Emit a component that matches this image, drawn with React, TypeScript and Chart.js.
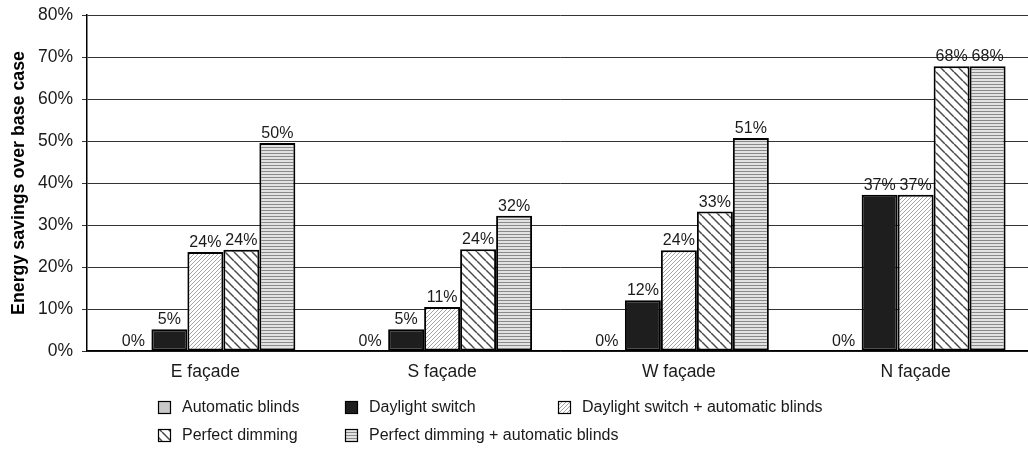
import React, { useEffect, useRef } from "react";
import { Chart, registerables } from "chart.js";

Chart.register(...registerables);

const categories = ["E façade", "S façade", "W façade", "N façade"];
const automaticBlinds = [0, 0, 0, 0];
const daylightSwitch = [5.2, 5.2, 12.1, 37.2];
const daylightSwitchBlinds = [23.6, 10.5, 24.0, 37.2];
const perfectDimming = [24.1, 24.2, 33.2, 67.8];
const perfectDimmingBlinds = [49.5, 32.2, 50.7, 67.8];
const yTicks = [0, 10, 20, 30, 40, 50, 60, 70, 80];
const seriesNames = [
  "Automatic blinds",
  "Daylight switch",
  "Daylight switch + automatic blinds",
  "Perfect dimming",
  "Perfect dimming + automatic blinds",
];

const FONT = "Arial, 'Liberation Sans', sans-serif";

function makePattern(kind: string): CanvasPattern | string {
  const c = document.createElement("canvas");
  const ctx = c.getContext("2d")!;
  if (kind === "fwd") {
    c.width = 4; c.height = 4;
    ctx.fillStyle = "#ffffff"; ctx.fillRect(0, 0, 4, 4);
    ctx.strokeStyle = "#a6a6a6"; ctx.lineWidth = 1;
    for (const k of [-4, 0, 4]) {
      ctx.beginPath(); ctx.moveTo(k, 4); ctx.lineTo(k + 4, 0); ctx.stroke();
    }
  } else if (kind === "back") {
    c.width = 9; c.height = 9;
    ctx.fillStyle = "#ffffff"; ctx.fillRect(0, 0, 9, 9);
    ctx.strokeStyle = "#4a4a4a"; ctx.lineWidth = 1.5;
    for (const k of [-9, 0, 9]) {
      ctx.beginPath(); ctx.moveTo(k, 0); ctx.lineTo(k + 9, 9); ctx.stroke();
    }
  } else {
    c.width = 2; c.height = 3;
    ctx.fillStyle = "#e2e2e2"; ctx.fillRect(0, 0, 2, 3);
    ctx.fillStyle = "#8a8a8a"; ctx.fillRect(0, 0, 2, 1);
  }
  return ctx.createPattern(c, "repeat")!;
}

export default function App() {
  const ref = useRef<HTMLCanvasElement>(null);

  useEffect(() => {
    if (!ref.current) return;
    const fills = [
      "#c8c8c8",
      "#1e1e1e",
      makePattern("fwd"),
      makePattern("back"),
      makePattern("horiz"),
    ];
    const seriesData = [
      automaticBlinds,
      daylightSwitch,
      daylightSwitchBlinds,
      perfectDimming,
      perfectDimmingBlinds,
    ];

    const labelPlugin = {
      id: "valueLabels",
      afterDatasetsDraw(chart: any) {
        const ctx = chart.ctx;
        ctx.save();
        ctx.font = `16px ${FONT}`;
        ctx.fillStyle = "#1a1a1a";
        ctx.textAlign = "center";
        ctx.textBaseline = "alphabetic";
        chart.data.datasets.forEach((ds: any, i: number) => {
          const meta = chart.getDatasetMeta(i);
          meta.data.forEach((el: any, j: number) => {
            const v = ds.data[j];
            ctx.fillText(Math.round(v) + "%", el.x, el.y - 5);
          });
        });
        ctx.restore();
      },
    };

    const legendPlugin = {
      id: "customLegend",
      afterDraw(chart: any) {
        const ctx = chart.ctx;
        const pos = [
          [158, 401],
          [345, 401],
          [558, 401],
          [158, 429],
          [345, 429],
        ];
        ctx.save();
        ctx.font = `16px ${FONT}`;
        ctx.textBaseline = "middle";
        ctx.textAlign = "left";
        seriesNames.forEach((name, i) => {
          const [x, y] = pos[i];
          ctx.fillStyle = fills[i] as any;
          ctx.fillRect(x, y, 13, 13);
          ctx.strokeStyle = "#000";
          ctx.lineWidth = 1.2;
          ctx.strokeRect(x + 0.5, y + 0.5, 12, 12);
          ctx.fillStyle = "#1a1a1a";
          ctx.fillText(name, x + 24, y + 7);
        });
        ctx.restore();
      },
    };

    const chart = new Chart(ref.current, {
      type: "bar",
      data: {
        labels: categories,
        datasets: seriesData.map((d, i) => ({
          label: seriesNames[i],
          data: d,
          backgroundColor: fills[i] as any,
          borderColor: "#000",
          borderWidth: 2,
          borderSkipped: false,
          categoryPercentage: 0.76,
          barPercentage: 1.0,
        })),
      },
      options: {
        animation: false,
        responsive: true,
        maintainAspectRatio: false,
        layout: { padding: { top: 15, right: 6, left: 0, bottom: 0 } },
        plugins: {
          legend: { display: false },
          tooltip: { enabled: false },
        },
        scales: {
          x: {
            grid: { display: false, drawTicks: false },
            border: { display: true, color: "#000", width: 1.5 },
            ticks: {
              color: "#1a1a1a",
              font: { family: FONT, size: 17.5 },
              padding: 11,
              maxRotation: 0,
            },
            afterFit(scale: any) {
              scale.height = 111;
            },
          },
          y: {
            min: 0,
            max: 80,
            afterBuildTicks(scale: any) {
              scale.ticks = yTicks.map((v) => ({ value: v }));
            },
            grid: { color: "#333", lineWidth: 1, tickLength: 5, drawTicks: true },
            border: { display: true, color: "#000", width: 1.5 },
            ticks: {
              color: "#1a1a1a",
              font: { family: FONT, size: 17.5 },
              padding: 9,
              callback: (v: any) => v + "%",
            },
            title: {
              display: true,
              text: "Energy savings over base case",
              color: "#000",
              font: { family: FONT, size: 17.8, weight: "bold" },
              padding: { top: 8, bottom: 0 },
            },
            afterFit(scale: any) {
              scale.width = 87;
              scale.paddingTop = 8;
              scale.paddingBottom = 8;
            },
          },
        },
      },
      plugins: [labelPlugin, legendPlugin],
    });
    return () => chart.destroy();
  }, []);

  return (
    <div
      style={{
        position: "absolute",
        top: 0,
        left: 0,
        width: 1028,
        height: 462,
        overflow: "hidden",
        background: "#fff",
      }}
    >
      <div style={{ position: "relative", width: 1040, height: 462 }}>
        <canvas ref={ref} />
      </div>
    </div>
  );
}
